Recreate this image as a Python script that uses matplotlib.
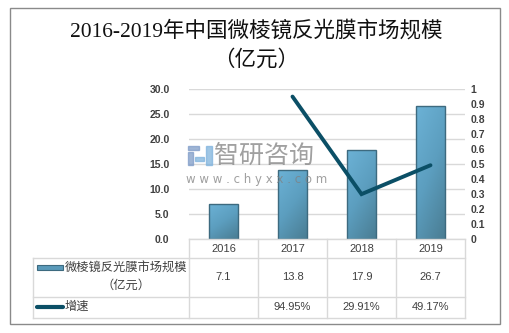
import numpy as np
import matplotlib
matplotlib.use("Agg")
import matplotlib.pyplot as plt
from matplotlib.patches import Rectangle
from matplotlib.colors import LinearSegmentedColormap
from matplotlib.transforms import blended_transform_factory

years = ['2016', '2017', '2018', '2019']
market_size = [7.1, 13.8, 17.9, 26.7]          # 亿元
growth = [None, 0.9495, 0.2991, 0.4917]
growth_labels = ['', '94.95%', '29.91%', '49.17%']
left_ticks = [0, 5, 10, 15, 20, 25, 30]
right_ticks = [0, 0.1, 0.2, 0.3, 0.4, 0.5, 0.6, 0.7, 0.8, 0.9, 1]

title = '2016-2019年中国微棱镜反光膜市场规模\n（亿元）'
bar_name = '微棱镜反光膜市场规模\n（亿元）'
line_name = '增速'

cjk = ['Noto Sans CJK SC', 'DejaVu Sans']
line_color = '#0b4f66'
grid_color = '#d9d9d9'
text_color = '#404040'

W, H = 509, 333
fig = plt.figure(figsize=(W / 100, H / 100), dpi=100)
fig.patch.set_facecolor('white')

ax = fig.add_axes([189 / W, (H - 239) / H, 276 / W, 150 / H])
ax.patch.set_visible(False)
ax.set_xlim(-0.5, len(years) - 0.5)
ax.set_ylim(0, 30)
ax.set_yticks(left_ticks)
ax.set_yticklabels([f'{t:.1f}' for t in left_ticks], fontsize=7.5,
                   fontweight='bold', family='Liberation Sans', color=text_color)
ax.tick_params(axis='y', length=0, pad=14)
ax.set_xticks([])
for s in ax.spines.values():
    s.set_visible(False)
ax.yaxis.grid(True, color=grid_color, lw=1)
ax.set_axisbelow(True)

# gradient filled bars, light at the top, darker toward the bottom right
cmap = LinearSegmentedColormap.from_list('bar', ['#6cb2d6', '#5c9ebf', '#4a7d93'])
gx, gy = np.meshgrid(np.linspace(0, 1, 40), np.linspace(0, 1, 80))
grad = 0.65 * gy + 0.35 * gx
x = np.arange(len(years))
bars = ax.bar(x, market_size, width=0.41, facecolor='none',
              edgecolor='#3d6a7f', lw=1, zorder=3)
for b in bars:
    bx, by, bw, bh = b.get_x(), b.get_y(), b.get_width(), b.get_height()
    im = ax.imshow(grad, cmap=cmap, extent=[bx, bx + bw, by, by + bh],
                   aspect='auto', zorder=2, origin='upper')
    im.set_clip_path(b)
ax.set_xlim(-0.5, len(years) - 0.5)
ax.set_ylim(0, 30)

ax2 = ax.twinx()
ax2.patch.set_visible(False)
ax2.set_ylim(0, 1)
ax2.set_yticks(right_ticks)
ax2.set_yticklabels([f'{t:g}' for t in right_ticks], fontsize=7.5,
                    fontweight='bold', family='Liberation Sans', color=text_color)
ax2.tick_params(axis='y', length=0, pad=4)
for s in ax2.spines.values():
    s.set_visible(False)
gx_idx = [i for i, g in enumerate(growth) if g is not None]
ax2.plot(gx_idx, [growth[i] for i in gx_idx], color=line_color, lw=2.8,
         solid_capstyle='round', solid_joinstyle='miter', zorder=4)

# pixel-space layer on top: frame, title, table and watermark
frame = fig.add_axes([0, 0, 1, 1], zorder=10)
frame.patch.set_visible(False)
frame.set_xlim(0, W)
frame.set_ylim(H, 0)
frame.axis('off')

frame.add_patch(Rectangle((10.5, 7.5), 489.5, 316.5, fill=False,
                          edgecolor='#8a8a8a', lw=1))

frame.text(256, 46, title, ha='center', va='center', fontsize=15.5,
           family=['Liberation Serif', 'Noto Sans CJK SC'], color='#111111',
           fontweight='medium', linespacing=1.55)

# data table under the plot
tr = blended_transform_factory(ax.transData, frame.transData)
row_y = [239, 258, 297, 318]
col_x = [-0.5 + i for i in range(len(years) + 1)]
tbl_left = -0.5 - 156 / 69
for y in row_y:
    x0 = col_x[0] if y == row_y[0] else tbl_left
    frame.plot([x0, col_x[-1]], [y, y], color=grid_color, lw=1,
               transform=tr, clip_on=False)
for cx in col_x:
    frame.plot([cx, cx], [row_y[0], row_y[-1]], color=grid_color, lw=1,
               transform=tr, clip_on=False)
frame.plot([tbl_left, tbl_left], [row_y[1], row_y[-1]], color=grid_color,
           lw=1, transform=tr, clip_on=False)

for i, yr in enumerate(years):
    frame.text(i, 248.5, yr, transform=tr, ha='center', va='center',
               fontsize=8, family='Liberation Sans', color=text_color)
    frame.text(i, 277.5, f'{market_size[i]:.1f}', transform=tr, ha='center',
               va='center', fontsize=8, family='Liberation Sans', color=text_color)
    frame.text(i, 307.5, growth_labels[i], transform=tr, ha='center',
               va='center', fontsize=8, family='Liberation Sans', color=text_color)

# legend keys inside the table
frame.add_patch(Rectangle((37, 265), 26, 5, facecolor='#5a9aba',
                          edgecolor='#3d6a7f', lw=0.8))
frame.plot([37, 63], [306.5, 306.5], color=line_color, lw=3,
           solid_capstyle='round')
frame.text(126, 277, bar_name, ha='center', va='center', fontsize=8.8,
           family=cjk, color=text_color, linespacing=1.45)
frame.text(65, 306.5, line_name, ha='left', va='center', fontsize=8.8,
           family=cjk, color=text_color)

# watermark
wm = dict(alpha=0.75, zorder=6)
frame.add_patch(Rectangle((188, 146), 11, 4, color='#7f9cc8', **wm))
frame.add_patch(Rectangle((188, 152), 5, 13, color='#7f9cc8', **wm))
frame.add_patch(Rectangle((195, 157), 9, 4, color='#7fb3dd', **wm))
frame.add_patch(Rectangle((206, 146), 6, 19, color='#7fb3dd', **wm))
frame.text(214, 156, '智研咨询', ha='left', va='center', fontsize=18,
           family=cjk, color='#808080', **wm)
frame.text(186, 179, 'w w w . c h y x x . c o m', ha='left', va='center',
           fontsize=8.5, family='DejaVu Sans', color='#808080', **wm)

fig.savefig('out.png', dpi=100)
